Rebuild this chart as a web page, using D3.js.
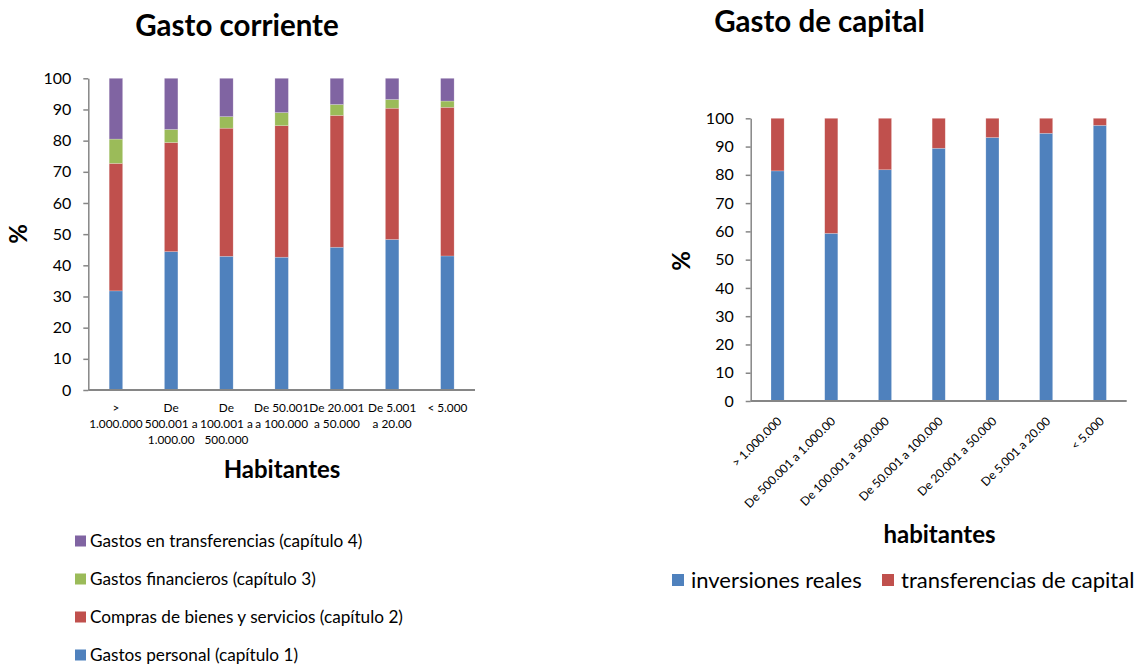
<!DOCTYPE html>
<html>
<head>
<meta charset="utf-8">
<script src="https://cdnjs.cloudflare.com/ajax/libs/d3/7.8.5/d3.min.js"></script>
<style>
  body { margin: 0; background: #fff; }
  svg { font-family: Lato, "Open Sans", sans-serif; }
</style>
</head>
<body>
<svg width="1140" height="665"></svg>
<script>
var svg = d3.select("svg");

// ---- data ----
var categories = ["> 1.000.000", "De 500.001 a 1.000.00", "De 100.001 a 500.000",
  "De 50.001 a 100.000", "De 20.001 a 50.000", "De 5.001 a 20.00", "< 5.000"];
// wrapped tick labels as they appear under the first chart
var wrappedLabels = [[">", "1.000.000"], ["De", "500.001 a", "1.000.00"], ["De", "100.001 a", "500.000"],
  ["De 50.001", "a 100.000"], ["De 20.001", "a 50.000"], ["De 5.001", "a 20.00"], ["< 5.000"]];

var gastosPersonal = [31.8, 44.4, 42.9, 42.6, 45.8, 48.3, 43.0];
var comprasBienes = [40.9, 35.0, 41.1, 42.2, 42.3, 42.1, 47.7];
var gastosFinancieros = [7.8, 4.2, 3.7, 4.2, 3.5, 2.8, 2.0];
var gastosTransferencias = [19.5, 16.4, 12.3, 11.0, 8.4, 6.8, 7.3];

var inversionesReales = [81.4, 59.3, 81.8, 89.4, 93.2, 94.7, 97.5];
var transferenciasCapital = [18.6, 40.7, 18.2, 10.6, 6.8, 5.3, 2.5];

var yTicks = [0, 10, 20, 30, 40, 50, 60, 70, 80, 90, 100];

var corrienteSeries = [
  {key: "personal", name: "Gastos personal (capítulo 1)", color: "#4F81BD", values: gastosPersonal},
  {key: "compras", name: "Compras de bienes y servicios (capítulo 2)", color: "#C0504D", values: comprasBienes},
  {key: "financieros", name: "Gastos financieros (capítulo 3)", color: "#9BBB59", values: gastosFinancieros},
  {key: "transferencias", name: "Gastos en transferencias (capítulo 4)", color: "#8064A2", values: gastosTransferencias}
];
var capitalSeries = [
  {key: "inversiones", name: "inversiones reales", color: "#4F81BD", values: inversionesReales},
  {key: "transferencias", name: "transferencias de capital", color: "#C0504D", values: transferenciasCapital}
];

var axisColor = "#868686";

function drawChart(opts) {
  var g = svg.append("g");
  var series = opts.series;

  var table = categories.map(function(c, i) {
    var row = {cat: c};
    series.forEach(function(s) { row[s.key] = s.values[i]; });
    return row;
  });

  var x = d3.scaleBand()
      .domain(categories)
      .range([opts.x0, opts.x1])
      .paddingInner(0.756)
      .paddingOuter(0.378);

  var y = d3.scaleLinear()
      .domain([0, 100])
      .range([opts.y0, opts.y1]);

  var stack = d3.stack().keys(series.map(function(s) { return s.key; }));
  var layers = stack(table);

  g.selectAll("g.layer")
    .data(layers)
    .enter().append("g")
      .attr("class", "layer")
      .attr("fill", function(d, i) { return series[i].color; })
    .selectAll("rect")
    .data(function(d) { return d; })
    .enter().append("rect")
      .attr("x", function(d) { return x(d.data.cat); })
      .attr("y", function(d) { return y(Math.min(d[1], 100)); })
      .attr("width", x.bandwidth())
      .attr("height", function(d) { return y(d[0]) - y(Math.min(d[1], 100)); })
      .attr("stroke", "rgba(255,255,255,0.35)")
      .attr("stroke-width", 0.6);

  // y axis
  var yAxis = g.append("g")
      .attr("transform", "translate(" + opts.x0 + ",0)")
      .call(d3.axisLeft(y).tickValues(yTicks).tickSize(5).tickSizeOuter(0).tickPadding(12));
  yAxis.selectAll("line, path").attr("stroke", axisColor).attr("stroke-width", 1.5);
  yAxis.selectAll("text").attr("font-size", 16).attr("fill", "#000").attr("font-family", "Lato, sans-serif");

  // x axis
  var xAxis = g.append("g")
      .attr("transform", "translate(0," + opts.y0 + ")")
      .call(d3.axisBottom(x).tickSize(0).tickSizeOuter(0).tickFormat(""));
  xAxis.select("path").attr("stroke", axisColor).attr("stroke-width", 1.8)
      .attr("d", "M" + opts.x0 + ",0H" + opts.x1);

  // title
  g.append("text")
      .attr("x", opts.titleX)
      .attr("y", opts.titleY)
      .attr("text-anchor", "middle")
      .attr("font-size", 29.5)
      .attr("font-weight", "bold")
      .text(opts.title);

  // y label
  g.append("text")
      .attr("transform", "translate(" + opts.yLabelX + "," + opts.yLabelY + ") rotate(-90)")
      .attr("text-anchor", "middle")
      .attr("font-size", 24)
      .attr("font-weight", "bold")
      .text("%");

  // x label
  g.append("text")
      .attr("x", opts.xLabelX)
      .attr("y", opts.xLabelY)
      .attr("text-anchor", "middle")
      .attr("font-size", 24)
      .attr("font-weight", "bold")
      .text(opts.xLabel);

  return {g: g, x: x, y: y};
}

// ---- Gasto corriente ----
var left = drawChart({
  series: corrienteSeries,
  x0: 88.3, x1: 475, y0: 390, y1: 78.3,
  title: "Gasto corriente", titleX: 237, titleY: 36,
  yLabelX: 27, yLabelY: 234,
  xLabel: "Habitantes", xLabelX: 282, xLabelY: 478
});

left.g.selectAll("text.xtick")
  .data(categories)
  .enter().append("text")
    .attr("class", "xtick")
    .attr("text-anchor", "middle")
    .attr("font-size", 11.8)
    .attr("transform", function(d) { return "translate(" + (left.x(d) + left.x.bandwidth() / 2) + ",412)"; })
  .selectAll("tspan")
  .data(function(d, i) { return wrappedLabels[i]; })
  .enter().append("tspan")
    .attr("x", 0)
    .attr("y", function(d, i) { return i * 16; })
    .text(function(d) { return d; });

// legend, listed top-down in reverse series order
var legL = left.g.selectAll("g.leg")
  .data(corrienteSeries.slice().reverse())
  .enter().append("g")
    .attr("class", "leg")
    .attr("transform", function(d, i) { return "translate(75," + (541 + i * 38) + ")"; });
legL.append("rect")
    .attr("x", 0).attr("y", -5.5)
    .attr("width", 11).attr("height", 11)
    .attr("fill", function(d) { return d.color; });
legL.append("text")
    .attr("x", 15)
    .attr("dy", "0.36em")
    .attr("font-size", 17.2)
    .text(function(d) { return d.name; });

// ---- Gasto de capital ----
var right = drawChart({
  series: capitalSeries,
  x0: 750.7, x1: 1126.7, y0: 401, y1: 118.3,
  title: "Gasto de capital", titleX: 819.5, titleY: 32,
  yLabelX: 690, yLabelY: 261,
  xLabel: "habitantes", xLabelX: 939.5, xLabelY: 543
});

right.g.selectAll("text.xtick")
  .data(categories)
  .enter().append("text")
    .attr("class", "xtick")
    .attr("text-anchor", "end")
    .attr("font-size", 12)
    .attr("transform", function(d) { return "translate(" + (right.x(d) + right.x.bandwidth() / 2 + 2) + ",419) rotate(-45)"; })
    .attr("dy", "0.35em")
    .text(function(d) { return d; });

var legR = right.g.selectAll("g.leg")
  .data(capitalSeries)
  .enter().append("g")
    .attr("class", "leg")
    .attr("transform", function(d, i) { return "translate(" + (i === 0 ? 672 : 882) + ",580)"; });
legR.append("rect")
    .attr("x", 0).attr("y", -6)
    .attr("width", 12).attr("height", 12)
    .attr("fill", function(d) { return d.color; });
legR.append("text")
    .attr("x", 19)
    .attr("dy", "0.36em")
    .attr("font-size", 22)
    .text(function(d) { return d.name; });
</script>
</body>
</html>
